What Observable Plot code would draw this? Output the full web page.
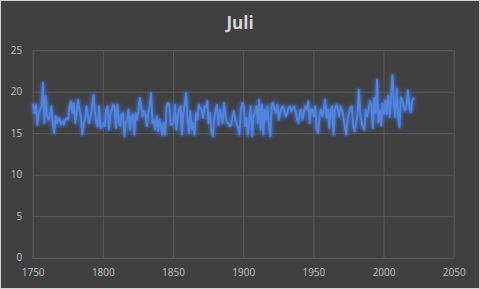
<!DOCTYPE html>
<html>
<head>
<meta charset="utf-8">
<script src="https://cdn.jsdelivr.net/npm/d3@7"></script>
<script src="https://cdn.jsdelivr.net/npm/@observablehq/plot@0.6"></script>
<style>
  html, body { margin: 0; padding: 0; background: #404040; }
  #chart {
    position: relative; width: 480px; height: 289px; box-sizing: border-box;
    background: #404040; border: 1px solid #d4d4d4; overflow: hidden;
  }
  #title {
    position: absolute; left: 0; right: 0; top: 10px; text-align: center;
    font-family: "Open Sans", "Lato", sans-serif; font-weight: 700; font-size: 17px;
    line-height: normal; color: #d9d9d9;
  }
  #plot { position: absolute; left: -1px; top: -1px; }
  .glow path { filter: drop-shadow(0 0 2.5px rgba(68,114,210,0.95)); }
</style>
</head>
<body>
<div id="chart"><div id="title">Juli</div><div id="plot"></div></div>
<script>
const titleText = "Juli";
const firstYear = 1750;
// July mean temperature (°C), one value per year from 1750
const julyTemps = [
  18.5, 17.5, 18.5, 16.1, 17.5, 17.9, 18.3, 21.1, 16.3, 19.5, // 1750s
  17.1, 16.7, 17.1, 18.3, 16.3, 15.1, 17.1, 16.3, 16.9, 16.7, // 1760s
  16.1, 16.5, 16.1, 16.7, 16.9, 16.7, 18.3, 18.9, 17.5, 18.7, // 1770s
  16.3, 17.5, 19.1, 17.9, 17.1, 14.9, 16.3, 16.7, 18.3, 17.1, // 1780s
  16.3, 17.1, 18.3, 19.7, 17.5, 16.3, 15.9, 18.3, 15.7, 15.9, // 1790s
  16.3, 15.9, 17.9, 18.3, 15.5, 17.3, 17.9, 18.5, 18.3, 15.7, // 1800s
  18.5, 16.7, 15.9, 17.3, 17.5, 14.7, 16.3, 16.7, 17.9, 15.5, // 1810s
  17.1, 17.3, 14.9, 17.5, 16.7, 17.9, 19.3, 18.3, 17.1, 17.7, // 1820s
  17.3, 15.9, 17.5, 18.3, 19.9, 16.3, 16.7, 15.5, 17.1, 15.3, // 1830s
  16.7, 15.9, 14.9, 16.3, 14.9, 18.3, 18.7, 18.5, 16.1, 16.1, // 1840s
  16.3, 18.5, 15.5, 17.1, 17.9, 18.3, 14.9, 17.5, 18.5, 19.9, // 1850s
  16.9, 15.1, 17.7, 15.5, 16.3, 14.9, 17.5, 16.7, 18.5, 18.1, // 1860s
  17.9, 16.9, 18.3, 18.1, 18.9, 16.3, 17.5, 15.3, 14.7, 16.7, // 1870s
  17.9, 18.5, 16.1, 17.9, 17.1, 16.3, 18.7, 17.3, 16.3, 16.3, // 1880s
  15.9, 16.1, 17.1, 17.7, 16.7, 16.1, 15.7, 14.9, 17.9, 18.7, // 1890s
  18.3, 15.9, 16.9, 14.9, 16.7, 18.3, 14.7, 17.1, 17.5, 18.3, // 1900s
  16.3, 19.1, 15.5, 18.5, 14.9, 17.9, 16.7, 18.3, 15.9, 14.7, // 1910s
  18.5, 18.7, 17.9, 17.5, 18.5, 16.7, 17.5, 18.1, 18.3, 17.7, // 1920s
  17.1, 17.5, 18.1, 18.3, 17.7, 18.1, 18.3, 17.7, 16.7, 16.3, // 1930s
  17.5, 17.9, 16.7, 17.7, 18.3, 17.9, 18.9, 16.3, 17.9, 17.9, // 1940s
  17.1, 18.3, 15.5, 15.1, 17.1, 17.9, 17.1, 17.9, 19.1, 16.9, // 1950s
  17.9, 15.7, 17.9, 18.3, 14.9, 17.9, 18.5, 18.1, 17.1, 18.3, // 1960s
  17.9, 17.1, 15.9, 14.9, 16.7, 17.5, 18.1, 18.3, 15.9, 15.3, // 1970s
  16.3, 17.1, 20.3, 17.5, 16.3, 15.7, 15.5, 17.9, 17.1, 17.9, // 1980s
  18.9, 18.3, 15.7, 19.3, 17.5, 21.5, 16.4, 17.8, 16.0, 18.6, // 1990s
  17.4, 19.0, 17.4, 19.6, 17.0, 19.4, 22.0, 18.6, 17.0, 20.4, // 2000s
  17.4, 15.8, 19.4, 19.0, 18.2, 17.8, 18.4, 20.2, 18.2, 17.6, // 2010s
  19.0, 19.2                                                  // 2020s
];
const xTicks = [1750, 1800, 1850, 1900, 1950, 2000, 2050];
const yTicks = [0, 5, 10, 15, 20, 25];

const data = julyTemps.map((t, i) => ({year: firstYear + i, temp: t}));

const axisColor = "#c4c4c4";
const gridColor = "#5b5b5b";

const chart = Plot.plot({
  width: 480,
  height: 289,
  marginLeft: 32.7,
  marginRight: 25.3,
  marginTop: 50.3,
  marginBottom: 30.7,
  style: {background: "transparent", color: axisColor, fontFamily: "'Open Sans', sans-serif", fontSize: "10px"},
  x: {domain: [1750, 2050], ticks: xTicks, tickFormat: d => String(d)},
  y: {domain: [0, 25], ticks: yTicks},
  marks: [
    Plot.gridX(xTicks, {stroke: gridColor, strokeOpacity: 1}),
    Plot.gridY(yTicks, {stroke: gridColor, strokeOpacity: 1}),
    Plot.axisX({ticks: xTicks, tickSize: 0, tickPadding: 11, label: null, fill: axisColor, tickFormat: d => String(d)}),
    Plot.axisY({ticks: yTicks, tickSize: 0, tickPadding: 11, label: null, fill: axisColor}),
    Plot.line(data, {x: "year", y: "temp", stroke: "#3a68c4", strokeWidth: 5.5, strokeOpacity: 0.35, curve: "linear"}),
    Plot.line(data, {x: "year", y: "temp", stroke: "#5384dc", strokeWidth: 2, className: "glow", curve: "linear"})
  ]
});
document.getElementById("plot").appendChild(chart);
document.getElementById("title").textContent = titleText;
</script>
</body>
</html>
